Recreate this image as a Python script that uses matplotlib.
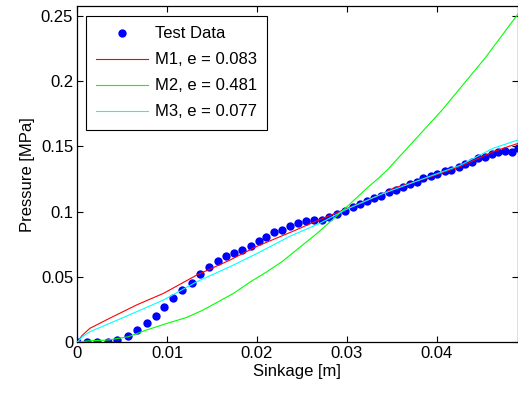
import numpy as np
import matplotlib
matplotlib.use("Agg")
import matplotlib.pyplot as plt

plt.rcParams["font.family"] = ["Liberation Sans", "DejaVu Sans"]

# Measured plate sinkage test (m) and pressure (MPa)
test_sinkage = [0, 0.00111, 0.00223, 0.00345, 0.00445, 0.00561, 0.00661, 0.00773, 0.00873, 0.00969,
                0.01069, 0.01169, 0.01281, 0.01366, 0.01467, 0.01563, 0.01653, 0.01745, 0.01834, 0.01931,
                0.0202, 0.02105, 0.02194, 0.02283, 0.02369, 0.02458, 0.02543, 0.02636, 0.02725, 0.02806,
                0.02895, 0.02981, 0.03067, 0.03148, 0.03229, 0.03304, 0.03385, 0.03471, 0.03549, 0.0363,
                0.03705, 0.0378, 0.03853, 0.03935, 0.04002, 0.04095, 0.04161, 0.04247, 0.04317, 0.04392,
                0.04465, 0.0454, 0.04615, 0.04688, 0.04763, 0.04844, 0.049]
test_pressure = [0, 0, 0, 0, 0.0015, 0.005, 0.0094, 0.015, 0.0204, 0.027,
                 0.0337, 0.0404, 0.0456, 0.0523, 0.0579, 0.0623, 0.0663, 0.0684, 0.0709, 0.074,
                 0.0773, 0.0806, 0.0842, 0.0862, 0.0893, 0.0916, 0.0929, 0.0937, 0.0937, 0.0957,
                 0.0983, 0.1006, 0.1034, 0.106, 0.1082, 0.1103, 0.1123, 0.1149, 0.1166, 0.1189,
                 0.121, 0.123, 0.1256, 0.1276, 0.1289, 0.1309, 0.1319, 0.134, 0.1363, 0.1383,
                 0.1409, 0.1421, 0.1439, 0.1455, 0.1467, 0.146, 0.1486]

# Model M1
m1_sinkage = [0, 0.0005, 0.0014, 0.0036, 0.0066, 0.0096, 0.0133, 0.0170, 0.0200, 0.0240,
              0.0267, 0.0298, 0.0337, 0.0352, 0.0390, 0.0426, 0.0463, 0.0491]
m1_pressure = [0, 0.005, 0.0107, 0.0184, 0.0286, 0.0375, 0.0515, 0.0630, 0.0735, 0.0850,
               0.0931, 0.1018, 0.1128, 0.1180, 0.1260, 0.1345, 0.1460, 0.1524]

# Model M2
m2_sinkage = [0, 0.0010, 0.0035, 0.0057, 0.0077, 0.0100, 0.0122, 0.0140, 0.0174, 0.0192,
              0.0211, 0.0228, 0.0267, 0.0298, 0.0322, 0.0337, 0.0345, 0.0406, 0.0454, 0.0491]
m2_pressure = [0, 0.0010, 0.0018, 0.0043, 0.0094, 0.0145, 0.0191, 0.0247, 0.0375, 0.0460,
               0.0540, 0.0618, 0.0835, 0.1024, 0.1178, 0.1267, 0.1319, 0.1778, 0.2177, 0.2518]

# Model M3
m3_sinkage = [0, 0.0005, 0.0014, 0.0036, 0.0066, 0.0096, 0.0133, 0.0170, 0.0200, 0.0237,
              0.0270, 0.0298, 0.0337, 0.0390, 0.0426, 0.0463, 0.0491]
m3_pressure = [0, 0.004, 0.0081, 0.0145, 0.0234, 0.0324, 0.0464, 0.0579, 0.0680, 0.0813,
               0.0911, 0.1013, 0.1130, 0.1265, 0.1355, 0.1486, 0.1550]

labels = ["Test Data", "M1, e = 0.083", "M2, e = 0.481", "M3, e = 0.077"]

fig = plt.figure(figsize=(5.18, 3.96), dpi=100)
ax = fig.add_axes([77.3 / 518, 1 - 342.3 / 396, (517.5 - 77.3) / 518, (342.3 - 6) / 396])

ax.plot(test_sinkage, test_pressure, "o", color=(0, 0, 1), markersize=6,
        markeredgewidth=0, label=labels[0], zorder=2)
ax.plot(m1_sinkage, m1_pressure, color=(1, 0, 0), lw=0.8, label=labels[1], zorder=3)
ax.plot(m2_sinkage, m2_pressure, color=(0, 1, 0), lw=0.8, label=labels[2], zorder=3)
ax.plot(m3_sinkage, m3_pressure, color=(0, 1, 1), lw=0.8, label=labels[3], zorder=3)

ax.set_xlim(0, 0.049)
ax.set_ylim(0, 0.2575)
ax.set_xticks([0, 0.01, 0.02, 0.03, 0.04])
ax.set_xticklabels(["0", "0.01", "0.02", "0.03", "0.04"])
ax.set_yticks([0, 0.05, 0.1, 0.15, 0.2, 0.25])
ax.set_yticklabels(["0", "0.05", "0.1", "0.15", "0.2", "0.25"])
ax.tick_params(direction="in", top=True, right=True, length=4, width=0.8,
               labelsize=12, pad=3)
for s in ax.spines.values():
    s.set_linewidth(0.9)

ax.set_xlabel("Sinkage [m]", fontsize=12, labelpad=2)
ax.set_ylabel("Pressure [MPa]", fontsize=12, labelpad=4)

leg = ax.legend(loc="upper left", bbox_to_anchor=(0.02, 0.97), fontsize=12,
                fancybox=False, edgecolor="black", framealpha=1,
                handlelength=3.1, handletextpad=0.4, labelspacing=0.66,
                borderpad=0.62, numpoints=1, borderaxespad=0)
leg.get_frame().set_linewidth(0.8)

fig.savefig("out.png", dpi=100)
